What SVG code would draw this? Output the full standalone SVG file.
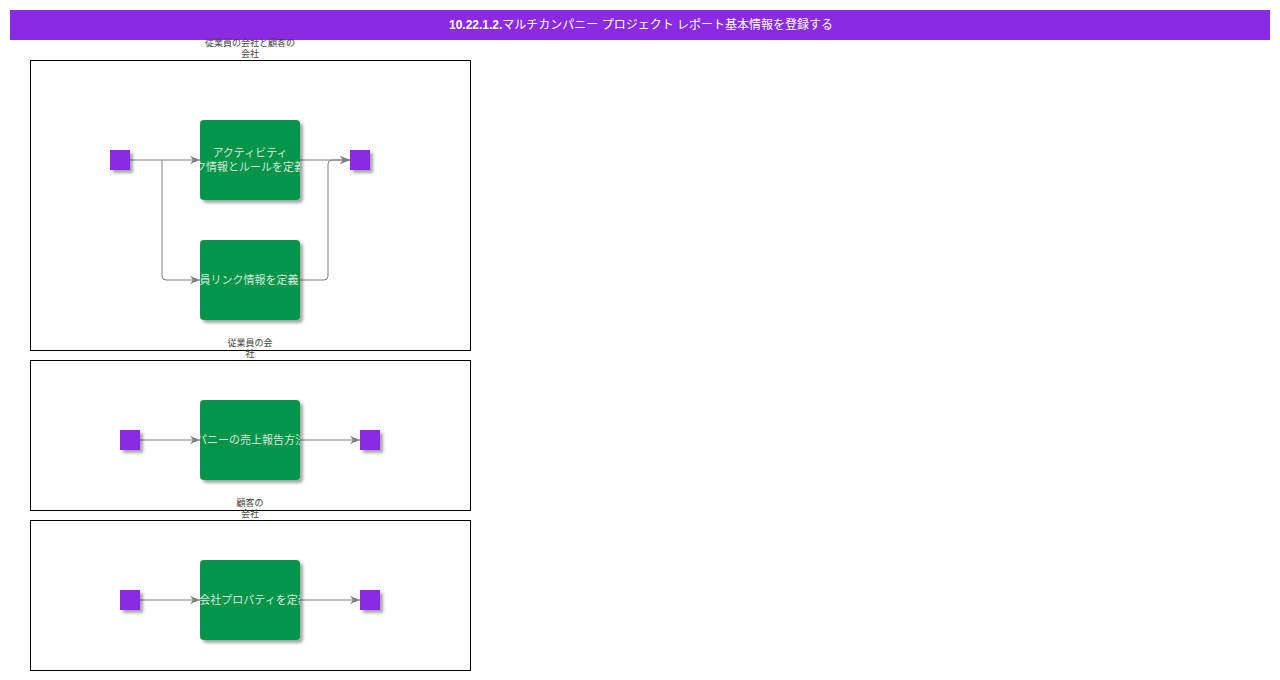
<svg xmlns="http://www.w3.org/2000/svg" width="1280" height="680" viewBox="0 0 1280 680">
<style>
.lane{fill:#fff;stroke:#000;stroke-width:1}
.lanelbl{font-family:"Noto Sans CJK JP","Liberation Sans",sans-serif;font-size:9px;fill:#444;text-anchor:middle}
.act{fill:#009548}
.acttxt{font-family:"Noto Sans CJK JP","Liberation Sans",sans-serif;font-size:11px;fill:#d8e8dc;text-anchor:middle}
.port{fill:#8A2BE2}
.conn{fill:none;stroke:#808080;stroke-width:1}
</style>
<defs>
<filter id="sh" x="-20%" y="-20%" width="150%" height="150%">
<feDropShadow dx="3" dy="3" stdDeviation="1.5" flood-color="#000" flood-opacity="0.35"/>
</filter>
<marker id="arr" markerWidth="10" markerHeight="8" refX="10" refY="4" orient="auto" markerUnits="userSpaceOnUse">
<path d="M0,0 L10,4 L0,8 L3,4 Z" fill="#808080"/>
</marker>
<clipPath id="cA"><rect x="200" y="120" width="100" height="80"/></clipPath>
<clipPath id="cB"><rect x="200" y="240" width="100" height="80"/></clipPath>
<clipPath id="cC"><rect x="200" y="400" width="100" height="80"/></clipPath>
<clipPath id="cD"><rect x="200" y="560" width="100" height="80"/></clipPath>
</defs>
<rect width="1280" height="680" fill="#fff"/>
<g id="header">
<rect x="10" y="10" width="1260" height="30" fill="#8A2BE2"/>
<text x="641" y="29" font-family="Liberation Sans, 'Noto Sans CJK JP', sans-serif" font-size="12" fill="#fff" text-anchor="middle"><tspan font-weight="bold">10.22.1.2.</tspan>マルチカンパニー プロジェクト レポート基本情報を登録する</text>
</g>
<g id="lane1">
<rect class="lane" x="30.5" y="60.5" width="440" height="290"/>
<text class="lanelbl" x="250" y="46">従業員の会社と顧客の</text>
<text class="lanelbl" x="250" y="57">会社</text>
</g>
<g id="lane2">
<rect class="lane" x="30.5" y="360.5" width="440" height="150"/>
<text class="lanelbl" x="250" y="346">従業員の会</text>
<text class="lanelbl" x="250" y="357">社</text>
</g>
<g id="lane3">
<rect class="lane" x="30.5" y="520.5" width="440" height="150"/>
<text class="lanelbl" x="250" y="506">顧客の</text>
<text class="lanelbl" x="250" y="517">会社</text>
</g>
<g id="connectors">
<path class="conn" d="M130,160 H200" marker-end="url(#arr)"/>
<path class="conn" d="M162,160 V276 Q162,280 166,280 H200" marker-end="url(#arr)"/>
<path class="conn" d="M300,160 H350" marker-end="url(#arr)"/>
<path class="conn" d="M300,280 H324 Q328,280 328,276 V164 Q328,160 332,160 H350" marker-end="url(#arr)"/>
<path class="conn" d="M140,440 H200" marker-end="url(#arr)"/>
<path class="conn" d="M300,440 H360" marker-end="url(#arr)"/>
<path class="conn" d="M140,600 H200" marker-end="url(#arr)"/>
<path class="conn" d="M300,600 H360" marker-end="url(#arr)"/>
</g>
<g id="start1"><rect class="port" x="110" y="150" width="20" height="20" filter="url(#sh)"/></g>
<g id="end1"><rect class="port" x="350" y="150" width="20" height="20" filter="url(#sh)"/></g>
<g id="actA">
<rect class="act" x="200" y="120" width="100" height="80" rx="4" filter="url(#sh)"/>
<g clip-path="url(#cA)">
<text class="acttxt" x="250" y="157" font-size="10.5">アクティビティ</text>
<text class="acttxt" x="250" y="171" font-size="10.5">ク情報とルールを定義</text>
</g>
</g>
<g id="actB">
<rect class="act" x="200" y="240" width="100" height="80" rx="4" filter="url(#sh)"/>
<g clip-path="url(#cB)"><text class="acttxt" x="249" y="284">員リンク情報を定義</text></g>
</g>
<g id="start2"><rect class="port" x="120" y="430" width="20" height="20" filter="url(#sh)"/></g>
<g id="end2"><rect class="port" x="360" y="430" width="20" height="20" filter="url(#sh)"/></g>
<g id="actC">
<rect class="act" x="200" y="400" width="100" height="80" rx="4" filter="url(#sh)"/>
<g clip-path="url(#cC)"><text class="acttxt" x="251" y="444">パニーの売上報告方法</text></g>
</g>
<g id="start3"><rect class="port" x="120" y="590" width="20" height="20" filter="url(#sh)"/></g>
<g id="end3"><rect class="port" x="360" y="590" width="20" height="20" filter="url(#sh)"/></g>
<g id="actD">
<rect class="act" x="200" y="560" width="100" height="80" rx="4" filter="url(#sh)"/>
<g clip-path="url(#cD)"><text class="acttxt" x="254" y="604">会社プロパティを定義</text></g>
</g>
</svg>
